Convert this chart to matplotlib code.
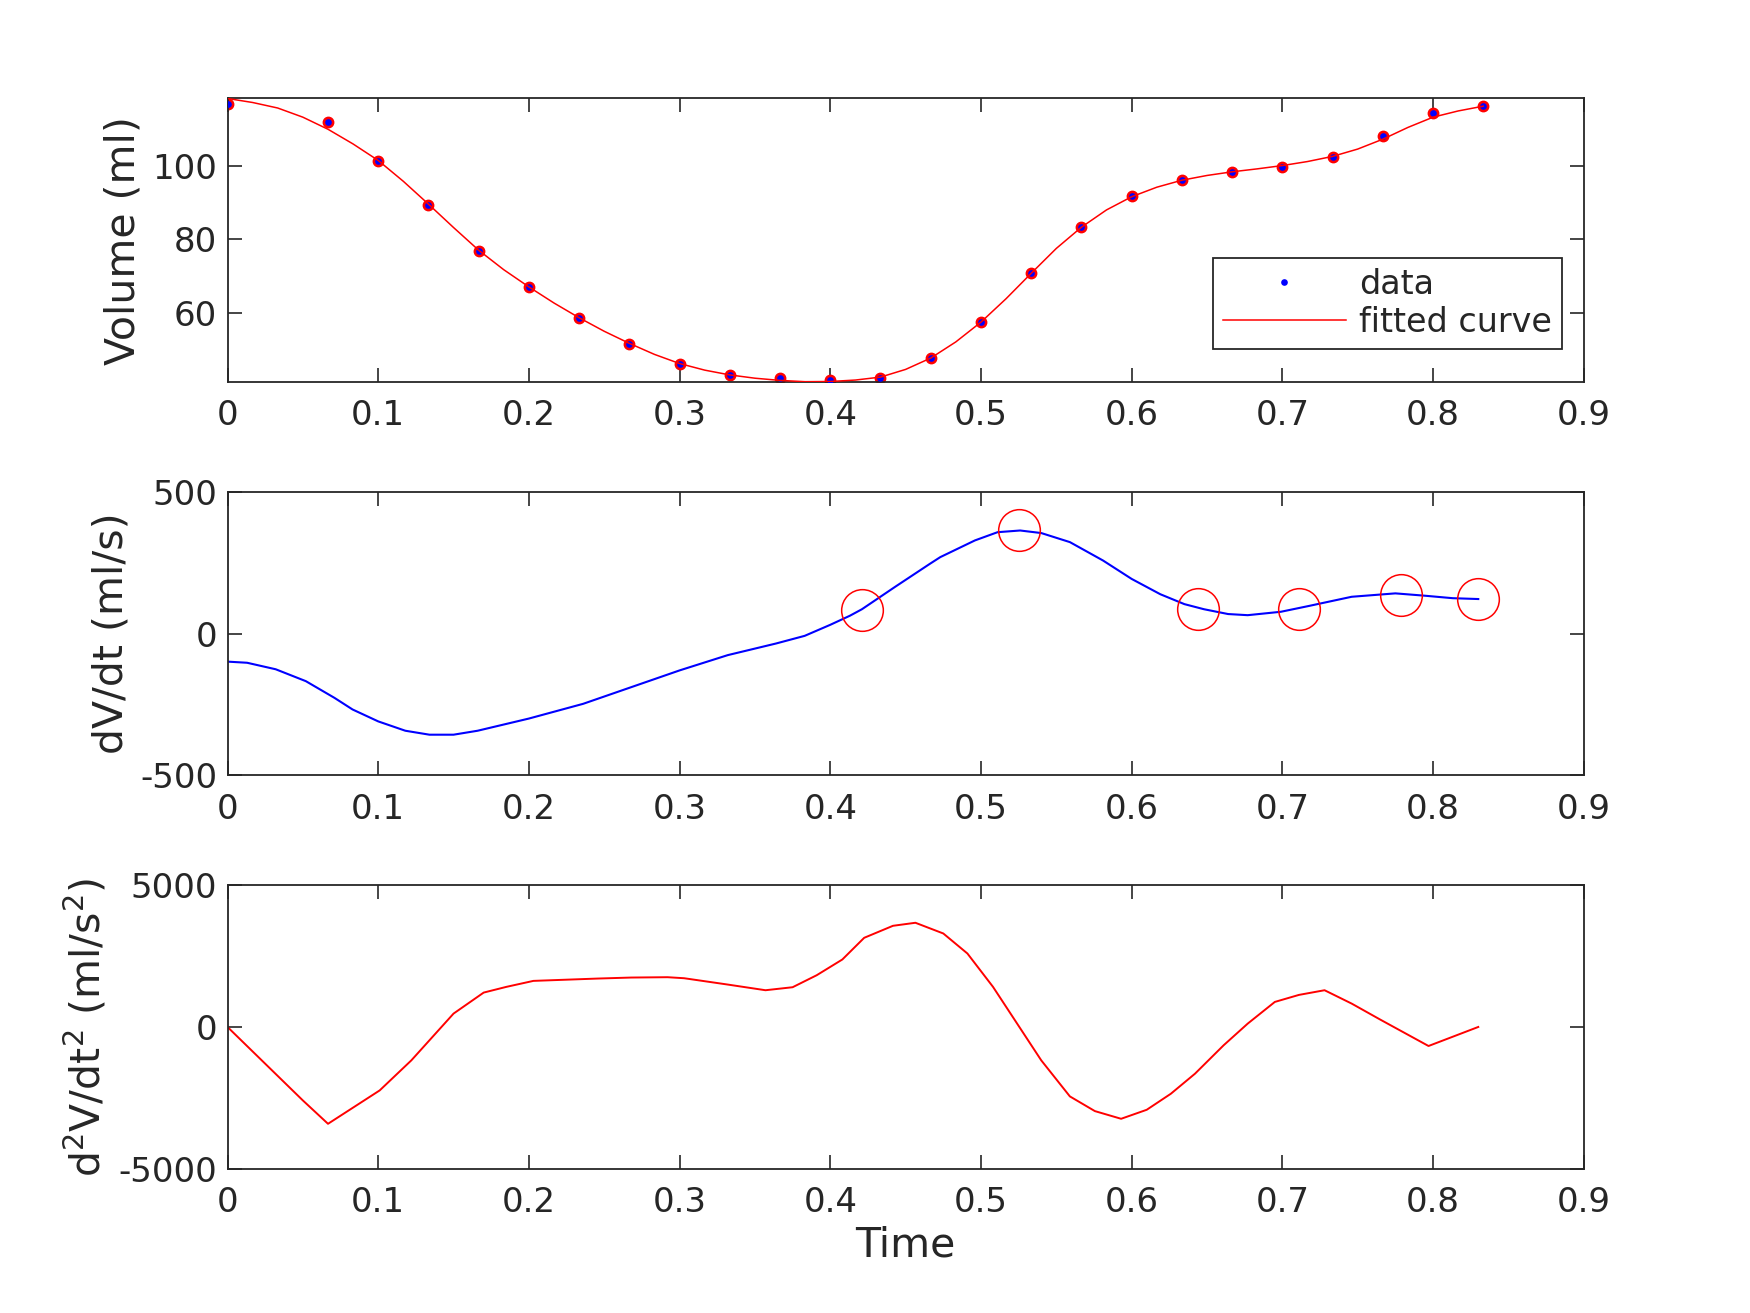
import numpy as np
import matplotlib.pyplot as plt
from matplotlib.ticker import FixedLocator, FuncFormatter

plt.rcParams['font.family'] = ['DejaVu Sans']
plt.rcParams['axes.unicode_minus'] = False

# measured volume samples
t_data = [0, 0.0667, 0.1, 0.1333, 0.1667, 0.2, 0.2333, 0.2667, 0.3, 0.3333,
          0.3667, 0.4, 0.4333, 0.4667, 0.5, 0.5333, 0.5667, 0.6, 0.6333, 0.6667,
          0.7, 0.7333, 0.7667, 0.8, 0.8333]
v_data = [116.8, 112.1, 101.4, 89.3, 76.9, 66.9, 58.5, 51.5, 46.1, 43.0,
          42.2, 41.7, 42.2, 47.7, 57.4, 70.7, 83.4, 91.8, 96.2, 98.3,
          99.6, 102.5, 108.1, 114.4, 116.3]

# fitted curve
t_fit = [0, 0.0167, 0.0333, 0.05, 0.0667, 0.0833, 0.1, 0.1167, 0.1333, 0.15,
         0.1667, 0.1833, 0.2, 0.2167, 0.2333, 0.25, 0.2667, 0.2833, 0.3, 0.3167,
         0.3333, 0.35, 0.3667, 0.3833, 0.4, 0.4167, 0.4333, 0.45, 0.4667, 0.4833,
         0.5, 0.5167, 0.5333, 0.55, 0.5667, 0.5833, 0.6, 0.6167, 0.6333, 0.65,
         0.6667, 0.6833, 0.7, 0.7167, 0.7333, 0.75, 0.7667, 0.7833, 0.8, 0.8167,
         0.8333]
v_fit = [118.4, 117.3, 115.8, 113.3, 110.0, 106.0, 101.5, 95.8, 89.6, 83.2,
         77.0, 71.7, 67.0, 62.6, 58.6, 54.9, 51.6, 48.6, 46.1, 44.3,
         43.0, 42.1, 41.5, 41.15, 41.2, 41.6, 42.4, 44.5, 47.6, 52.0,
         57.4, 63.8, 70.7, 77.5, 83.3, 88.0, 91.6, 94.2, 96.1, 97.4,
         98.4, 99.2, 100.1, 101.2, 102.6, 104.6, 107.3, 110.5, 113.3, 115.0,
         116.3]

# first derivative
t_dv = [0, 0.013, 0.032, 0.052, 0.071, 0.083, 0.1, 0.118, 0.134, 0.150,
        0.166, 0.2, 0.236, 0.268, 0.3, 0.332, 0.364, 0.383, 0.4, 0.413,
        0.421, 0.443, 0.466, 0.473, 0.496, 0.511, 0.526, 0.540, 0.559, 0.581,
        0.600, 0.619, 0.635, 0.648, 0.664, 0.677, 0.699, 0.718, 0.746, 0.775,
        0.794, 0.813, 0.830]
v_dv = [-99, -103, -126, -168, -227, -268, -310, -343, -357, -357,
        -343, -300, -248, -189, -130, -76, -35, -8, 31, 63,
        86, 165, 246, 270, 329, 358, 364, 355, 323, 258,
        193, 139, 104, 86, 69, 65, 77, 98, 130, 142,
        134, 125, 122]

# picked points on the derivative
t_pick = [0.421, 0.525, 0.644, 0.711, 0.779, 0.830]
v_pick = [85, 364, 87, 87, 138, 121]

# second derivative
t_d2 = [0, 0.05, 0.0667, 0.101, 0.122, 0.150, 0.170, 0.185, 0.203, 0.246,
        0.268, 0.292, 0.303, 0.332, 0.357, 0.375, 0.391, 0.408, 0.4225, 0.4416,
        0.4565, 0.475, 0.491, 0.508, 0.524, 0.540, 0.559, 0.5756, 0.593, 0.610,
        0.626, 0.642, 0.661, 0.677, 0.695, 0.711, 0.728, 0.746, 0.765, 0.797,
        0.830]
v_d2 = [0, -2594, -3419, -2240, -1179, 472, 1214, 1415, 1627, 1710,
        1745, 1757, 1721, 1497, 1297, 1403, 1827, 2382, 3148, 3572,
        3679, 3301, 2594, 1415, 118, -1179, -2452, -2971, -3242, -2924,
        -2358, -1651, -648, 118, 884, 1132, 1297, 825, 259, -672,
        0]

dark = '#262626'
xticks = [0, 0.1, 0.2, 0.3, 0.4, 0.5, 0.6, 0.7, 0.8, 0.9]

fig = plt.figure(figsize=(17.5, 13.13), dpi=100)
ax1 = fig.add_axes([0.13, 0.7093, 0.775, 0.2157])
ax2 = fig.add_axes([0.13, 0.4096, 0.775, 0.2157])
ax3 = fig.add_axes([0.13, 0.11, 0.775, 0.2157])

ax1.plot(t_data, v_data, 'o', color='r', ms=7.5, mec='r', mew=1, zorder=2)
ax1.plot(t_data, v_data, 'o', color='b', ms=4.8, mew=0, label='data', zorder=3)
ax1.plot(t_fit, v_fit, '-', color='r', lw=1.1, label='fitted curve', zorder=4)
ax1.set_ylim(min(v_fit), max(v_fit))
ax1.set_yticks([60, 80, 100])
ax1.set_ylabel('Volume (ml)')
leg = ax1.legend(loc='lower right', bbox_to_anchor=(0.8926, 0.7342),
                 bbox_transform=fig.transFigure, borderaxespad=0,
                 fancybox=False, framealpha=1, edgecolor=dark, fontsize=24,
                 handlelength=3.7, handletextpad=0.4, borderpad=0.3,
                 labelspacing=0.15)
leg.get_frame().set_linewidth(1.3)
for txt in leg.get_texts():
    txt.set_color(dark)

ax2.plot(t_dv, v_dv, '-', color='b', lw=1.5)
ax2.plot(t_pick, v_pick, 'o', ms=30, mfc='none', mec='r', mew=1.1)
ax2.set_ylim(-500, 500)
ax2.set_yticks([-500, 0, 500])
ax2.set_ylabel('dV/dt (ml/s)')

ax3.plot(t_d2, v_d2, '-', color='r', lw=1.4)
ax3.set_ylim(-5000, 5000)
ax3.set_yticks([-5000, 0, 5000])
ax3.set_ylabel(r'd$^2$V/dt$^2$ (ml/s$^2$)')
ax3.set_xlabel('Time', fontsize=29.5, color=dark, labelpad=5)

for ax in (ax1, ax2, ax3):
    ax.set_xlim(0, 0.9)
    ax.xaxis.set_major_locator(FixedLocator(xticks))
    ax.xaxis.set_major_formatter(FuncFormatter(lambda v, p: '%g' % v))
    ax.tick_params(direction='in', length=9.8, width=1.2, colors=dark,
                   labelsize=24.5, top=True, right=True)
    ax.tick_params(axis='x', pad=12.5)
    ax.tick_params(axis='y', pad=7.5)
    ax.yaxis.label.set_size(29.5)
    ax.yaxis.label.set_color(dark)
    ax.yaxis.labelpad = 6
    for s in ax.spines.values():
        s.set_color(dark)
        s.set_linewidth(1.3)

fig.savefig('out.png', dpi=100)
